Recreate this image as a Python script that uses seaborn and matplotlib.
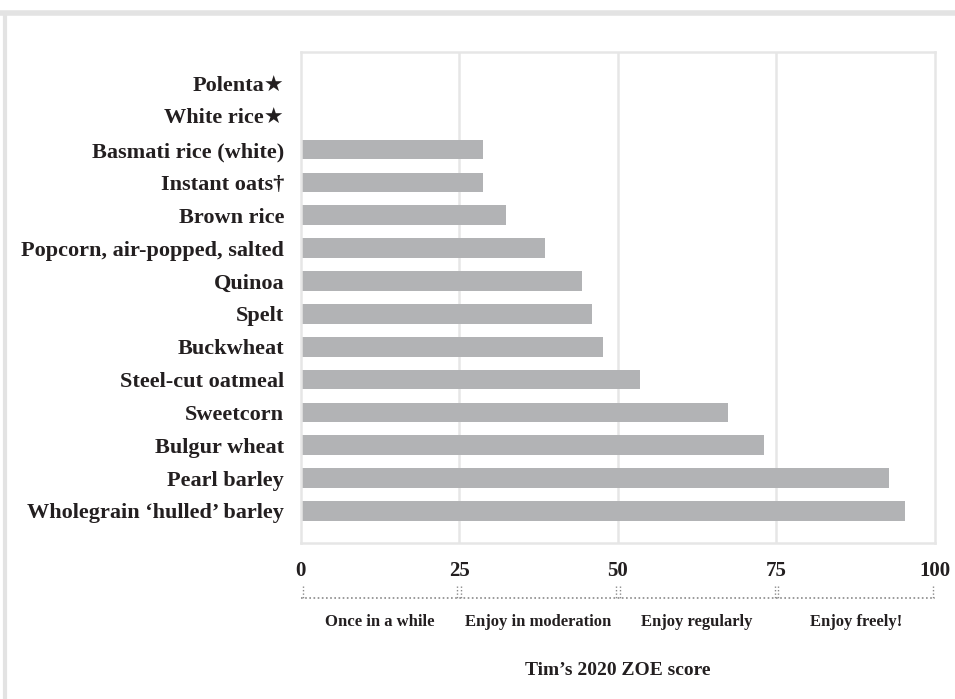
import pandas as pd
import matplotlib.pyplot as plt
import seaborn as sns
from matplotlib.lines import Line2D

# dati (Polenta e White rice senza barra)
alimenti = [
    "Polenta\u2605",
    "White rice\u2605",
    "Basmati rice (white)",
    "Instant oats\u2020",
    "Brown rice",
    "Popcorn, air-popped, salted",
    "Quinoa",
    "Spelt",
    "Buckwheat",
    "Steel-cut oatmeal",
    "Sweetcorn",
    "Bulgur wheat",
    "Pearl barley",
    "Wholegrain \u2018hulled\u2019 barley",
]
punteggi = [0, 0, 28.7, 28.7, 32.4, 38.5, 44.4, 45.9, 47.7, 53.5, 67.3, 73.1, 92.7, 95.3]
tick_valori = [0, 25, 50, 75, 100]
fasce = ["Once in a while", "Enjoy in moderation", "Enjoy regularly", "Enjoy freely!"]
titolo_asse = "Tim\u2019s 2020 ZOE score"

df = pd.DataFrame({"Alimento": alimenti, "Punteggio": punteggi})

sns.set_theme(style="white")
plt.rcParams["font.family"] = ["Liberation Serif", "DejaVu Serif", "DejaVu Sans"]
plt.rcParams["font.weight"] = "bold"
testo = "#231f20"
griglia = "#e6e6e6"

fig = plt.figure(figsize=(9.55, 6.99), dpi=100)
ax = fig.add_axes([0.315, 0.223, 0.664, 0.703])

sns.barplot(
    data=df,
    x="Punteggio",
    y="Alimento",
    order=alimenti,
    color="#b2b3b5",
    saturation=1,
    width=0.6,
    orient="h",
    linewidth=0,
    ax=ax,
)

ax.set_xlim(0, 100)
ax.set_xticks(tick_valori)
ax.set_xticklabels([str(t) for t in tick_valori], fontsize=15, fontweight="bold", color=testo)
ax.tick_params(axis="x", length=0, pad=13)
ax.tick_params(axis="y", length=0, pad=12)
for lab in ax.get_yticklabels():
    lab.set_fontsize(16)
    lab.set_fontweight("bold")
    lab.set_color(testo)
ax.set_ylabel("")
ax.set_xlabel("")

for v in [25, 50, 75]:
    ax.axvline(v, color=griglia, lw=1.8, zorder=0)
for s in ax.spines.values():
    s.set_color(griglia)
    s.set_linewidth(1.8)

# parentesi tratteggiate sotto l'asse
trans = ax.get_xaxis_transform()
ax.plot([0, 100], [-0.112, -0.112], transform=trans, clip_on=False,
        color="#8a8a8a", lw=1.2, ls=(0, (1, 1.5)))
for a, b in zip(tick_valori[:-1], tick_valori[1:]):
    for x in (a + 0.3, b - 0.3):
        ax.plot([x, x], [-0.088, -0.112], transform=trans, clip_on=False,
                color="#8a8a8a", lw=1.0, ls=(0, (1, 1.5)))
for i, f in enumerate(fasce):
    centro = (tick_valori[i] + tick_valori[i + 1]) / 2
    ax.text(centro, -0.16, f, transform=trans, ha="center", va="center",
            fontsize=12, fontweight="bold", color=testo)

ax.text(50, -0.26, titolo_asse, transform=trans, ha="center", va="center",
        fontsize=14, fontweight="bold", color=testo)

# cornice grigia dello screenshot
fig.add_artist(Line2D([0, 1], [1 - 12.5 / 699] * 2, transform=fig.transFigure,
                      color="#e3e3e3", lw=4))
fig.add_artist(Line2D([4.5 / 955] * 2, [0, 1 - 12.5 / 699], transform=fig.transFigure,
                      color="#e3e3e3", lw=3))

fig.savefig("out.png", dpi=100)
